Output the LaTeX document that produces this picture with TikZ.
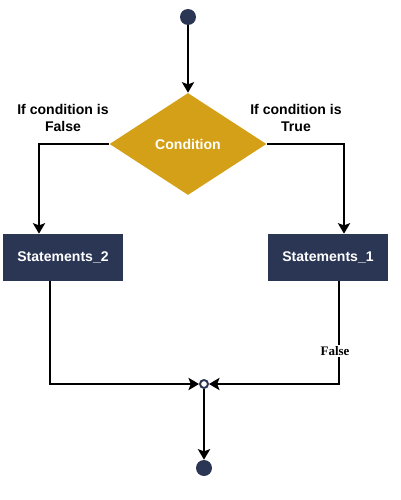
\documentclass[tikz,border=0pt]{standalone}
\usepackage{fontspec}
\setmainfont{Liberation Sans}
\newfontfamily\timesfont{Liberation Serif}
\usetikzlibrary{arrows.meta,shapes.geometric,positioning}
\definecolor{fcnavy}{RGB}{43,54,85}
\definecolor{fcgold}{RGB}{212,160,23}

\begin{document}
\begin{tikzpicture}[
  x=0.02cm,y=-0.02cm,
  font=\fontsize{8}{9.6}\selectfont\bfseries,
  stmt/.style={fill=fcnavy,text=white,minimum width=2.4cm,minimum height=0.94cm,inner sep=0pt},
  cond/.style={diamond,fill=fcgold,text=white,minimum width=3.14cm,minimum height=2.04cm,inner sep=0pt},
  dot/.style={circle,fill=fcnavy,minimum size=0.32cm,inner sep=0pt},
  junc/.style={circle,draw=fcnavy,fill=white,line width=1.1pt,minimum size=0.16cm,inner sep=0pt},
  flow/.style={line width=0.9pt,-{Stealth[length=6pt,width=7pt,inset=1.3pt]}},
  note/.style={align=center}
]
  \useasboundingbox (0,0) rectangle (400,500);

  \node[dot] (start) at (188,17) {};
  \node[cond] (cond) at (188,144) {Condition};
  \node[stmt] (s2) at (63,257.5) {Statements\_2};
  \node[stmt] (s1) at (328,257.5) {Statements\_1};
  \node[junc] (j) at (204,384) {};
  \node[dot] (stop) at (204,468) {};

  \node[note] (lfalse) at (63,118) {If condition is\\False};
  \node[note] (ltrue) at (296,118) {If condition is\\True};

  \draw[flow] (start) -- (cond.north);
  \draw[flow] (cond.west) -| ([xshift=-0.48cm]s2.north);
  \draw[flow] (cond.east) -| ([xshift=0.32cm]s1.north);
  \draw[flow] ([xshift=-0.26cm]s2.south) |- (j);
  \draw[flow] ([xshift=0.22cm]s1.south) |-
    node[pos=0.34,xshift=-0.08cm,fill=white,inner sep=1pt,font=\timesfont\fontsize{7.4}{8}\selectfont\bfseries]{False} (j);
  \draw[flow] (j) -- (stop);
\end{tikzpicture}
\end{document}
